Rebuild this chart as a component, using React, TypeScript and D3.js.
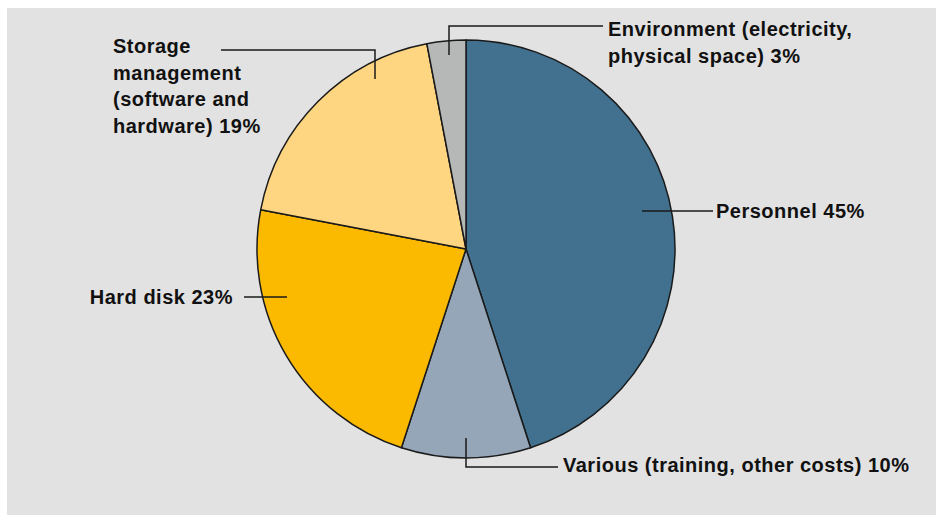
import React from "react";
import * as d3 from "d3";

const categories = [
  "Personnel",
  "Various (training, other costs)",
  "Hard disk",
  "Storage management (software and hardware)",
  "Environment (electricity, physical space)",
];
const shares = [45, 10, 23, 19, 3];
const colors = ["#41718f", "#94a6b8", "#fbb900", "#fed580", "#b6b8b8"];
const labelLines = [
  ["Personnel 45%"],
  ["Various (training, other costs) 10%"],
  ["Hard disk 23%"],
  ["Storage", "management", "(software and", "hardware) 19%"],
  ["Environment (electricity,", "physical space) 3%"],
];

// annotation layout (leader paths and label anchors)
const leaderPaths = [
  "M642,211 H713",
  "M466,438 V467 H558",
  "M244,297 H287",
  "M221,50 H375 V79",
  "M449,55 V26 H603",
];
const labelPos: [number, number, string][] = [
  [716, 218, "start"],
  [563, 472, "start"],
  [233, 304, "end"],
  [113, 53, "start"],
  [608, 36, "start"],
];

const W = 937;
const H = 515;
const cx = 466;
const cy = 249;
const R = 209;

export default function App() {
  const pie = d3
    .pie<number>()
    .sort(null)
    .value((d) => d)
    .startAngle(0)
    .endAngle(2 * Math.PI);
  const arcs = pie(shares);
  const arcGen = d3.arc<d3.PieArcDatum<number>>().innerRadius(0).outerRadius(R);
  const font = {
    fontFamily: "'Liberation Sans', Arial, sans-serif",
    fontWeight: 700,
    fontSize: 20,
    letterSpacing: 0.5,
  };
  return (
    <svg
      width={W}
      height={H}
      style={{ position: "absolute", left: 0, top: 0, display: "block" }}
    >
      <rect x={0} y={0} width={W} height={H} fill="#ffffff" />
      <rect x={7} y={8} width={929} height={507} fill="#e2e2e2" />
      <g transform={`translate(${cx},${cy})`}>
        {arcs.map((a, i) => (
          <path
            key={categories[i]}
            d={arcGen(a) || ""}
            fill={colors[i]}
            stroke="#1a1a1a"
            strokeWidth={1.5}
            strokeLinejoin="round"
          />
        ))}
      </g>
      {leaderPaths.map((p, i) => (
        <path key={"l" + i} d={p} fill="none" stroke="#1a1a1a" strokeWidth={1.5} />
      ))}
      {labelLines.map((lines, i) => (
        <text
          key={"t" + i}
          x={labelPos[i][0]}
          y={labelPos[i][1]}
          textAnchor={labelPos[i][2] as any}
          fill="#111111"
          style={font as any}
        >
          {lines.map((ln, j) => (
            <tspan key={j} x={labelPos[i][0]} dy={j === 0 ? 0 : 26.6}>
              {ln}
            </tspan>
          ))}
        </text>
      ))}
    </svg>
  );
}
